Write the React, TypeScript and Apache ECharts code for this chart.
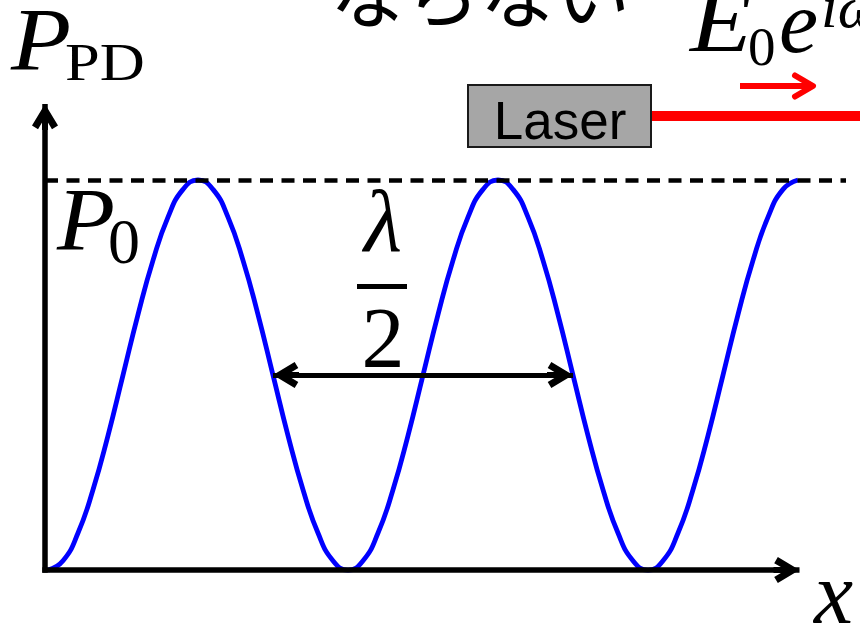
import React, { useEffect, useRef } from "react";
import * as echarts from "echarts";

// Position along x in units of λ/2 (one full interference period)
const positionX = [
  0, 0.05, 0.1, 0.15, 0.2, 0.25, 0.3, 0.35, 0.4, 0.45,
  0.5, 0.55, 0.6, 0.65, 0.7, 0.75, 0.8, 0.85, 0.9, 0.95,
  1.0, 1.05, 1.1, 1.15, 1.2, 1.25, 1.3, 1.35, 1.4, 1.45,
  1.5, 1.55, 1.6, 1.65, 1.7, 1.75, 1.8, 1.85, 1.9, 1.95,
  2.0, 2.05, 2.1, 2.15, 2.2, 2.25, 2.3, 2.35, 2.4, 2.45,
  2.5,
];
// Photodiode power P_PD in units of P0
const powerPD = [
  0, 0.024, 0.095, 0.206, 0.345, 0.5, 0.655, 0.794, 0.905, 0.976,
  1, 0.976, 0.905, 0.794, 0.655, 0.5, 0.345, 0.206, 0.095, 0.024,
  0, 0.024, 0.095, 0.206, 0.345, 0.5, 0.655, 0.794, 0.905, 0.976,
  1, 0.976, 0.905, 0.794, 0.655, 0.5, 0.345, 0.206, 0.095, 0.024,
  0, 0.024, 0.095, 0.206, 0.345, 0.5, 0.655, 0.794, 0.905, 0.976,
  1,
];

// Axis extents and reference marks (data units)
const xRange = [-0.02, 2.66];
const yRange = [-0.01, 1.2];
const axisOrigin = [-0.01, 0];
const xAxisEnd = 2.505;
const yAxisEnd = 1.195;
const p0Level = 1;
const p0LineEnd = 2.66;
const halfLambda = [0.75, 1.75];
const halfLambdaLevel = 0.5;

const CHEVRON =
  "path://M12,0 L24,20 L18.43,23.34 L14.75,17.2 L14.75,24 L9.25,24 L9.25,17.2 L5.57,23.34 L0,20 Z";
const CHEV_SIZE = 26;
const CHEV_OFFSET = [0, 13];

const SERIF = "'Liberation Serif', 'Times New Roman', serif";

function txt(text: string, x: number, y: number, size: number, opts: any = {}) {
  return {
    type: "text",
    x,
    y,
    scaleX: opts.scaleX || 1,
    silent: true,
    z: 10,
    style: {
      text,
      font: `${opts.italic ? "italic " : ""}${size}px ${opts.family || SERIF}`,
      fill: opts.fill || "#000",
      align: opts.align || "left",
      verticalAlign: "middle",
    },
  };
}

export default function App() {
  const ref = useRef<HTMLDivElement>(null);

  useEffect(() => {
    document.body.style.margin = "0";
    if (!ref.current) return;
    const chart = echarts.init(ref.current, undefined, { renderer: "svg" });

    chart.setOption({
      animation: false,
      backgroundColor: "#fff",
      grid: { left: 42, right: 14, top: 102, bottom: 52 },
      xAxis: { type: "value", min: xRange[0], max: xRange[1], show: false },
      yAxis: { type: "value", min: yRange[0], max: yRange[1], show: false },
      series: [
        {
          name: "P_PD",
          type: "line",
          z: 2,
          data: positionX.map((x, i) => [x, powerPD[i]]),
          showSymbol: false,
          smooth: 0.5,
          clip: false,
          silent: true,
          lineStyle: { color: "#0000ff", width: 4.8 },
        },
        {
          name: "axes",
          type: "line",
          z: 3,
          data: [],
          markLine: {
            silent: true,
            animation: false,
            symbol: ["none", CHEVRON],
            symbolSize: CHEV_SIZE,
            symbolOffset: [[0, 0], CHEV_OFFSET],
            label: { show: false },
            emphasis: { disabled: true },
            lineStyle: { color: "#000", width: 5.5, type: "solid" },
            data: [
              [{ coord: [axisOrigin[0] - 0.009, axisOrigin[1]] }, { coord: [xAxisEnd, axisOrigin[1]] }],
              [{ coord: [axisOrigin[0], axisOrigin[1] - 0.007] }, { coord: [axisOrigin[0], yAxisEnd] }],
            ],
          },
        },
        {
          name: "P0",
          type: "line",
          z: 3,
          data: [],
          markLine: {
            silent: true,
            animation: false,
            symbol: ["none", "none"],
            label: { show: false },
            emphasis: { disabled: true },
            lineStyle: { color: "#000", width: 4.5, type: [13, 8.5] },
            data: [[{ coord: [axisOrigin[0], p0Level] }, { coord: [p0LineEnd, p0Level] }]],
          },
        },
        {
          name: "halfLambda",
          type: "line",
          z: 3,
          data: [],
          markLine: {
            silent: true,
            animation: false,
            symbol: [CHEVRON, CHEVRON],
            symbolSize: CHEV_SIZE,
            symbolOffset: [CHEV_OFFSET, CHEV_OFFSET],
            label: { show: false },
            emphasis: { disabled: true },
            lineStyle: { color: "#000", width: 5, type: "solid" },
            data: [
              [{ coord: [halfLambda[0], halfLambdaLevel] }, { coord: [halfLambda[1], halfLambdaLevel] }],
            ],
          },
        },
      ],
      graphic: [
        // top (cut-off) Japanese text
        txt("ならない", 330, -10.5, 75, { family: "'Noto Sans CJK JP', sans-serif" }),
        // E0 e^{iω...}
        txt("E", 690, 22, 88, { italic: true, scaleX: 1.15 }),
        txt("0", 748, 46, 55),
        txt("e", 779, 22, 88, { italic: true }),
        txt("iω", 821, 7, 60, { italic: true }),
        // laser
        {
          type: "rect",
          silent: true,
          z: 5,
          shape: { x: 468, y: 85, width: 183, height: 62 },
          style: { fill: "#a6a6a6", stroke: "#1a1a1a", lineWidth: 2 },
        },
        txt("Laser", 560, 120.6, 53, { family: "'Liberation Sans', Arial, sans-serif", align: "center" }),
        {
          type: "line",
          silent: true,
          z: 5,
          shape: { x1: 652, y1: 116, x2: 860, y2: 116 },
          style: { stroke: "#ff0000", lineWidth: 10 },
        },
        {
          type: "line",
          silent: true,
          z: 5,
          shape: { x1: 740, y1: 86, x2: 812, y2: 86 },
          style: { stroke: "#ff0000", lineWidth: 6 },
        },
        {
          type: "polyline",
          silent: true,
          z: 5,
          shape: { points: [[795, 75.5], [813, 86], [795, 96.5]] },
          style: { stroke: "#ff0000", lineWidth: 6, fill: null, lineCap: "round", lineJoin: "round" },
        },
        // axis labels
        txt("P", 11, 39, 88, { italic: true, scaleX: 1.12 }),
        txt("PD", 65, 62, 52, { scaleX: 1.2 }),
        txt("P", 57, 219, 88, { italic: true, scaleX: 1.08 }),
        txt("0", 108, 241.5, 64),
        // λ / 2
        txt("λ", 383, 221, 88, { italic: true, align: "center" }),
        {
          type: "line",
          silent: true,
          z: 10,
          shape: { x1: 357, y1: 286.5, x2: 407, y2: 286.5 },
          style: { stroke: "#000", lineWidth: 5 },
        },
        txt("2", 383, 338, 86, { align: "center" }),
        txt("x", 814, 593, 88, { italic: true }),
      ],
    });

    return () => chart.dispose();
  }, []);

  return <div ref={ref} style={{ width: 860, height: 626 }} />;
}
